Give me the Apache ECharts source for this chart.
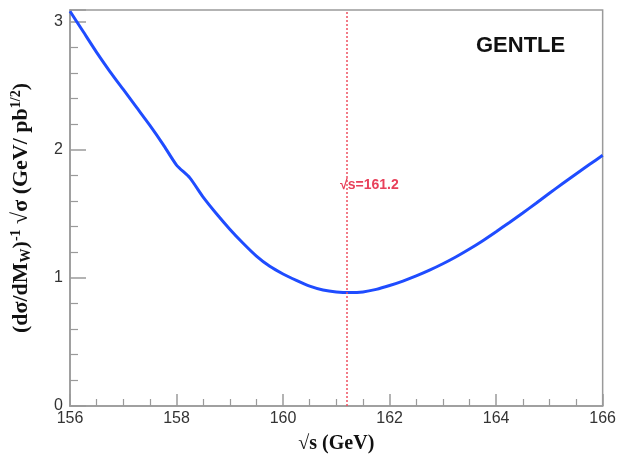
<!DOCTYPE html>
<html>
<head>
<meta charset="utf-8">
<script src="https://cdn.jsdelivr.net/npm/echarts@6/dist/echarts.min.js"></script>
<style>
html, body { margin: 0; padding: 0; background: #fff; }
#chart { width: 619px; height: 459px; }
</style>
</head>
<body>
<div id="chart"></div>
<script>
// sqrt(s) in GeV
var energies = [156, 156.25, 156.5, 156.75, 157, 157.25, 157.5, 157.75, 158, 158.25, 158.5, 158.75,
    159, 159.25, 159.5, 159.75, 160, 160.25, 160.5, 160.75, 161, 161.25, 161.5, 161.75,
    162, 162.25, 162.5, 162.75, 163, 163.25, 163.5, 163.75, 164, 164.25, 164.5, 164.75,
    165, 165.25, 165.5, 165.75, 166];
// (dsigma/dMw)^-1 sqrt(sigma)
var sensitivity = [3.08, 2.92, 2.76, 2.61, 2.47, 2.33, 2.19, 2.04, 1.88, 1.78, 1.63, 1.50,
    1.38, 1.27, 1.17, 1.09, 1.03, 0.98, 0.935, 0.905, 0.89, 0.885, 0.89, 0.91,
    0.94, 0.975, 1.015, 1.06, 1.11, 1.165, 1.225, 1.29, 1.36, 1.432, 1.506, 1.582,
    1.66, 1.736, 1.811, 1.884, 1.956];
var optimum = 161.2;
var xTicks = [156, 158, 160, 162, 164, 166];

var myChart = echarts.init(document.getElementById('chart'));

var points = [];
for (var i = 0; i < energies.length; i++) {
    points.push([energies[i], sensitivity[i]]);
}

var serif = '"Liberation Serif", "DejaVu Serif", serif';
var sans = '"Liberation Sans", Arial, sans-serif';

myChart.setOption({
    animation: false,
    grid: {
        left: 70, right: 13, top: 10, bottom: 48,
        show: true, borderColor: '#9a9a9a', borderWidth: 1.5
    },
    graphic: [{
        type: 'text',
        left: 476, top: 35,
        style: { text: 'GENTLE', font: 'bold 22px ' + sans, fill: '#111' }
    }],
    xAxis: {
        type: 'value',
        min: 156, max: 166, interval: 2,
        name: '√s (GeV)',
        nameLocation: 'middle',
        nameGap: 28,
        nameTextStyle: { fontFamily: serif, fontWeight: 'bold', fontSize: 20, color: '#111' },
        axisLine: { lineStyle: { color: '#9a9a9a', width: 1.5 } },
        axisTick: { inside: true, length: 12, lineStyle: { color: '#9a9a9a', width: 1.5 } },
        minorTick: { show: true, splitNumber: 4, length: 7, lineStyle: { color: '#9a9a9a', width: 1.2 } },
        axisLabel: {
            margin: 5, fontFamily: sans, fontSize: 16, color: '#333',
            customValues: xTicks
        },
        splitLine: { show: false }
    },
    yAxis: {
        type: 'value',
        min: 0, max: 3.09, interval: 1,
        name: '{t|(dσ/dM}{sub|W}{t|)}{sup|-1}{t| √σ (GeV/ pb}{sup|1/2}{t|)}',
        nameLocation: 'middle',
        nameGap: 37,
        nameTextStyle: {
            rich: {
                t: { fontFamily: serif, fontWeight: 'bold', fontSize: 22, color: '#111' },
                sub: { fontFamily: serif, fontWeight: 'bold', fontSize: 14, color: '#111', verticalAlign: 'bottom', padding: [10, 0, 0, 0] },
                sup: { fontFamily: serif, fontWeight: 'bold', fontSize: 14, color: '#111', verticalAlign: 'top', padding: [0, 0, 10, 0] }
            }
        },
        axisLine: { lineStyle: { color: '#9a9a9a', width: 1.5 } },
        axisTick: { inside: true, length: 16, lineStyle: { color: '#9a9a9a', width: 1.5 } },
        minorTick: { show: true, splitNumber: 5, length: 8, lineStyle: { color: '#9a9a9a', width: 1.2 } },
        axisLabel: {
            margin: 7, fontFamily: sans, fontSize: 16, color: '#333',
            formatter: function (v) { return v > 3 ? '' : String(v); }
        },
        splitLine: { show: false }
    },
    series: [{
        type: 'line',
        data: points,
        smooth: 0.2,
        symbol: 'none',
        lineStyle: { color: '#1f4cff', width: 3 },
        markLine: {
            silent: true,
            symbol: 'none',
            label: { show: false },
            lineStyle: { color: '#ee5060', type: [2, 2], width: 1.5 },
            data: [{ xAxis: optimum }]
        },
        markPoint: {
            silent: true,
            symbol: 'circle',
            symbolSize: 1,
            itemStyle: { color: 'rgba(0,0,0,0)' },
            label: {
                show: true,
                position: 'inside',
                formatter: '√s=' + optimum,
                fontFamily: sans, fontWeight: 'bold', fontSize: 14, color: '#e8405a'
            },
            data: [{ coord: [161.62, 1.72] }]
        }
    }]
});

window.addEventListener('resize', function () { myChart.resize(); });
</script>
</body>
</html>
